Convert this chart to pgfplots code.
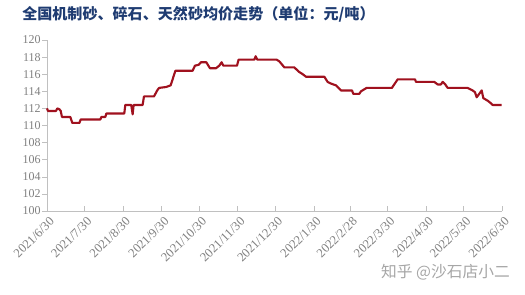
\documentclass[border=0pt]{standalone}
\usepackage{fontspec}
\usepackage{pgfplots}
\pgfplotsset{compat=1.18}
\setmainfont{Liberation Serif}
\newfontfamily\cjk{Noto Sans CJK SC}
\definecolor{linered}{HTML}{A0111E}
\definecolor{titleblue}{HTML}{1F3C72}
\definecolor{tickgray}{HTML}{7F7F7F}
\definecolor{axisgray}{HTML}{C0C0C0}
\definecolor{wmgray}{HTML}{A6A6A6}
\begin{document}
\begin{tikzpicture}[x=1pt,y=1pt]
\useasboundingbox (0,0) rectangle (393.75,221.25);
\node[anchor=west, text=titleblue, font=\cjk\bfseries\fontsize{11.3}{12}\selectfont, inner sep=0pt] at (16.5,210.75) {全国机制砂、碎石、天然砂均价走势（单位：元/吨）};
\begin{axis}[
  at={(35.25pt,63pt)}, anchor=south west,
  width=341.25pt, height=128.25pt, scale only axis,
  xmin=0, xmax=365, ymin=100, ymax=120,
  ytick={100,102,...,120},
  xtick={0,30,61,92,122,153,183,214,243,273,304,334,365},
  xticklabels={2021/6/30,2021/7/30,2021/8/30,2021/9/30,2021/10/30,2021/11/30,2021/12/30,2022/1/30,2022/2/28,2022/3/30,2022/4/30,2022/5/30,2022/6/30},
  axis x line=bottom, axis y line=left,
  axis line style={draw=axisgray, -},
  tick style={draw=axisgray, thin},
  major tick length=3.5pt,
  xtick align=inside, ytick align=outside,
  /pgf/number format/assume math mode=true,
  yticklabel style={text=tickgray, font=\fontsize{9}{10}\selectfont, inner sep=1pt},
  xticklabel style={text=tickgray, font=\fontsize{9.5}{10}\selectfont, rotate=45, anchor=east, inner sep=0.5pt, xshift=-1pt, yshift=-7pt},
  clip=false,
]
\addplot[linered, line width=1.6pt, line join=round] coordinates {
(0,112.0) (0.8,111.7) (7.2,111.7) (8.3,112.0) (9.9,111.9) (11,111.7) (12,111.0) (18.7,111.0) (20.3,110.3) (26,110.3) (27,110.7) (42.8,110.7) (43.6,111.0) (46.8,111.0) (47.6,111.4) (62,111.4) (62.8,112.4) (67.6,112.4) (68.7,111.3) (69.5,112.4) (76.7,112.4) (77.8,113.4) (85.8,113.4) (88.8,114.2) (90.1,114.4) (95.5,114.5) (99.2,114.7) (103,116.4) (116.8,116.4) (118.7,117.0) (121.7,117.1) (123.5,117.4) (127.8,117.4) (130.7,116.7) (135.6,116.7) (138.2,117.0) (140.1,117.4) (141.4,117.0) (152.4,117.0) (153.7,117.7) (166.3,117.7) (167.4,118.1) (168.7,117.7)
(170.3,117.7) (184.2,117.7) (186.4,117.5) (190.4,116.8) (198.4,116.8) (201.9,116.3) (205.1,116.0) (207.8,115.7) (222.5,115.7) (225.1,115.1) (227.8,114.9) (231.8,114.7) (235.8,114.1) (244.7,114.1) (245.7,113.7) (250.5,113.7) (251.9,114.0) (256.4,114.4) (276.7,114.4) (281.3,115.4) (295.2,115.4) (296,115.1) (310.7,115.1) (313.4,114.8) (316,114.8) (317.4,115.1) (319.5,114.8) (321.4,114.4) (337.4,114.4) (341.4,114.1) (343.3,113.9) (344.7,113.3) (348.7,114.1) (350,113.2) (353.5,112.9) (356.1,112.6) (357.5,112.4) (364.7,112.4)
};
\end{axis}
\node[anchor=east, text=wmgray, font=\cjk\fontsize{11.8}{12}\selectfont, inner sep=0pt] at (382.5,16.9) {知乎 @沙石店小二};
\end{tikzpicture}
\end{document}
